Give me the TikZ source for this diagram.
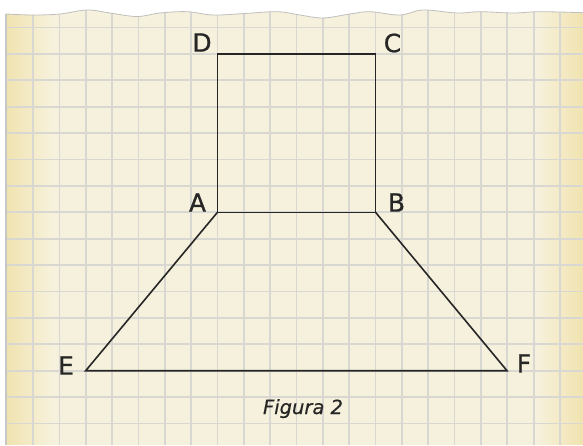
\documentclass[tikz,border=0pt]{standalone}
\usepackage{fontspec}
\setmainfont{DejaVu Sans}
\newfontfamily\labelfont[FakeBold=0.8]{DejaVu Sans}
\newfontfamily\capfont[FakeBold=0.5]{DejaVu Sans Oblique}
\definecolor{paperlight}{HTML}{F6F1DC}
\definecolor{paperedge}{HTML}{F1E3AF}
\definecolor{gridc}{HTML}{D9D7D1}
\definecolor{inkc}{HTML}{262626}
\pgfdeclarehorizontalshading{papershade}{100bp}{color(0bp)=(paperedge); color(25bp)=(paperedge); color(29bp)=(paperlight); color(71bp)=(paperlight); color(75bp)=(paperedge); color(100bp)=(paperedge)}
\begin{document}
\begin{tikzpicture}[x=1pt,y=-1pt,
  gridline/.style={draw=gridc,line width=1.7pt},
  figline/.style={draw=inkc,line width=1.6pt,line join=miter},
  ptlabel/.style={text=inkc,inner sep=0pt,font=\labelfont\fontsize{25}{30}\selectfont},
  caption/.style={text=inkc,inner sep=0pt,font=\capfont\fontsize{19.5}{24}\selectfont}]
\useasboundingbox[fill=white] (0,0) rectangle (583,445);
% paper
\shade[shading=papershade]
  (6,445) -- plot[smooth,tension=0.6] coordinates {(6,14) (33,15) (60,14) (87,10) (110,13) (137,16.5) (160,13) (187,11.7) (213,15) (245,13.5) (277,11.7) (300,15) (323,18) (350,14) (370,11.7) (400,15) (423,10) (457,13) (480,11.7) (513,13) (540,11.7) (583,12.7)} -- (583,445) -- cycle;
\begin{scope}
  \clip (6,445) -- plot[smooth,tension=0.6] coordinates {(6,14) (33,15) (60,14) (87,10) (110,13) (137,16.5) (160,13) (187,11.7) (213,15) (245,13.5) (277,11.7) (300,15) (323,18) (350,14) (370,11.7) (400,15) (423,10) (457,13) (480,11.7) (513,13) (540,11.7) (583,12.7)} -- (583,445) -- cycle;
  \foreach \k in {0,...,20} {
    \draw[gridline] ({33+\k*26.35},0) -- ({33+\k*26.35},445);
  }
  \foreach \k in {0,...,16} {
    \draw[gridline] (0,{27.5+\k*26.4}) -- (583,{27.5+\k*26.4});
  }
\end{scope}
\draw[draw=black!25,line width=0.8pt] plot[smooth,tension=0.6] coordinates {(6,14) (33,15) (60,14) (87,10) (110,13) (137,16.5) (160,13) (187,11.7) (213,15) (245,13.5) (277,11.7) (300,15) (323,18) (350,14) (370,11.7) (400,15) (423,10) (457,13) (480,11.7) (513,13) (540,11.7) (583,12.7)};
\draw[draw=black!22,line width=1.2pt] (6,445) -- (6,14);
% points
\coordinate (D) at (217.45,53.9);
\coordinate (C) at (375.55,53.9);
\coordinate (A) at (217.45,212.3);
\coordinate (B) at (375.55,212.3);
\coordinate (E) at (85.7,370.7);
\coordinate (F) at (507,370.7);
\draw[figline] (A) -- (D) -- (C) -- (B) -- cycle;
\draw[figline] (A) -- (E) -- (F) -- (B);
% labels
\node[ptlabel] (lD) at (202,42.5) {D};
\node[ptlabel] (lC) at (392.5,43) {C};
\node[ptlabel] (lA) at (197.5,202.5) {A};
\node[ptlabel] (lB) at (396.5,202.5) {B};
\node[ptlabel] (lE) at (66,365.5) {E};
\node[ptlabel] (lF) at (524,363.5) {F};
\node[caption,anchor=base] (cap) at (303,414) {Figura 2};
\end{tikzpicture}
\end{document}
